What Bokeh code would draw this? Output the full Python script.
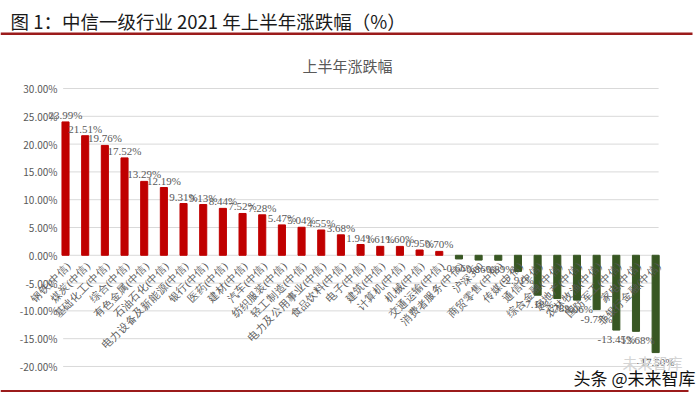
import math
from bokeh.plotting import figure
from bokeh.models import (Range1d, ColumnDataSource, LabelSet, Label, BoxAnnotation)
from bokeh.embed import file_html
from bokeh.resources import INLINE

categories = [
    "钢铁(中信)", "煤炭(中信)", "基础化工(中信)", "综合(中信)", "有色金属(中信)",
    "石油石化(中信)", "电力设备及新能源(中信)", "银行(中信)", "医药(中信)", "建材(中信)",
    "汽车(中信)", "纺织服装(中信)", "轻工制造(中信)", "电力及公用事业(中信)", "食品饮料(中信)",
    "电子(中信)", "建筑(中信)", "计算机(中信)", "机械(中信)", "交通运输(中信)",
    "消费者服务(中信)", "沪深300", "商贸零售(中信)", "传媒(中信)", "通信(中信)",
    "综合金融(中信)", "房地产(中信)", "农林牧渔(中信)", "国防军工(中信)", "家电(中信)",
    "非银行金融(中信)",
]
changes = [
    23.99, 21.51, 19.76, 17.52, 13.29,
    12.19, 9.31, 9.13, 8.44, 7.52,
    7.28, 5.47, 5.04, 4.55, 3.68,
    1.94, 1.61, 1.60, 0.95, 0.70,
    -0.66, -0.86, -0.89, -2.91, -7.18,
    -7.78, -8.06, -9.77, -13.45, -13.68,
    -17.50,
]
y_ticks = [-20, -15, -10, -5, 0, 5, 10, 15, 20, 25, 30]

main_title = "图 1：中信一级行业 2021 年上半年涨跌幅（%）"
chart_title = "上半年涨跌幅"
footer_text = "头条 @未来智库"
watermark_text = "未来智库"

FONT = "Noto Sans CJK SC"
RED = "#C00000"
GREEN = "#385723"
GREY = "#595959"
LINE_RED = "#9B1B1B"

W, H = 700, 396
idx = list(range(len(categories)))
colors = [RED if v >= 0 else GREEN for v in changes]
src = ColumnDataSource(dict(x=idx, cat=categories, val=changes, color=colors,
                            zero=[0] * len(categories)))
pos_src = ColumnDataSource(dict(
    x=[i for i, v in zip(idx, changes) if v >= 0],
    val=[v for v in changes if v >= 0],
    lab=[f"{v:.2f}%" for v in changes if v >= 0]))
neg_src = ColumnDataSource(dict(
    x=[i for i, v in zip(idx, changes) if v < 0],
    val=[v for v in changes if v < 0],
    lab=[f"{v:.2f}%" for v in changes if v < 0]))

# frame covers the whole canvas; ranges chosen so bars/gridlines sit where the original has them
p = figure(x_range=Range1d(-3.305, 32.28), y_range=Range1d(-25.4, 45.83),
           width=W, height=H, output_backend="svg", toolbar_location=None,
           x_axis_location=None, y_axis_location=None,
           min_border=0, min_border_left=0, min_border_right=0,
           min_border_top=0, min_border_bottom=0)
p.outline_line_color = None
p.background_fill_color = "white"
p.border_fill_color = "white"
p.xgrid.grid_line_color = None
p.ygrid.grid_line_color = None

# gridlines + y tick labels
grid_src = ColumnDataSource(dict(y=y_ticks, lab=[f"{t:.2f}%" for t in y_ticks]))
p.segment(x0=idx[0] - 0.12, x1=idx[-1] + 0.15, y0="y", y1="y", source=grid_src,
          line_color="#d9d9d9", line_width=1)
for t in y_ticks:
    p.add_layout(Label(x=57, y=t, x_units="screen", y_units="data", text=f"{t:.2f}%",
                       text_align="right", text_baseline="middle",
                       text_font=FONT, text_font_size="10px", text_color=GREY))

p.vbar(x="x", top="val", width=0.36, color="color", source=src)

p.add_layout(LabelSet(x="x", y="val", text="lab", source=pos_src,
                      text_align="center", text_baseline="bottom", y_offset=1,
                      text_font=FONT, text_font_size="11px", text_color=GREY))
p.add_layout(LabelSet(x="x", y="val", text="lab", source=neg_src,
                      text_align="center", text_baseline="top", y_offset=-3,
                      text_font=FONT, text_font_size="11px", text_color=GREY))
p.add_layout(LabelSet(x="x", y="zero", text="cat", source=src,
                      angle=math.pi / 4, text_align="right", text_baseline="middle",
                      x_offset=3, y_offset=-9,
                      text_font=FONT, text_font_size="10.5px", text_color=GREY))

# header, chart title, footer (screen units measured from the frame's bottom-left)
p.add_layout(Label(x=10, y=H - 20, x_units="screen", y_units="screen", text=main_title,
                   text_font=FONT, text_font_size="18.5px", text_color="#1a1a1a",
                   text_baseline="middle", text_align="left"))
p.add_layout(BoxAnnotation(left=0, right=692, top=H - 32, bottom=H - 34.5,
                           left_units="screen", right_units="screen",
                           top_units="screen", bottom_units="screen",
                           fill_color=LINE_RED, fill_alpha=1, line_color=None))
p.add_layout(Label(x=347, y=H - 65, x_units="screen", y_units="screen", text=chart_title,
                   text_font=FONT, text_font_size="15px", text_color=GREY,
                   text_baseline="middle", text_align="center"))
p.add_layout(Label(x=622, y=H - 362, x_units="screen", y_units="screen", text=watermark_text,
                   text_font=FONT, text_font_size="15px", text_color="#d4d4d4",
                   text_baseline="middle", text_align="left"))
p.add_layout(Label(x=695, y=H - 377, x_units="screen", y_units="screen", text=footer_text,
                   text_font=FONT, text_font_size="17px", text_color="#111111",
                   text_baseline="middle", text_align="right"))
p.add_layout(BoxAnnotation(left=0, right=688, top=H - 389.5, bottom=H - 391.5,
                           left_units="screen", right_units="screen",
                           top_units="screen", bottom_units="screen",
                           fill_color=LINE_RED, fill_alpha=1, line_color=None))

open("out.html", "w").write(file_html(p, INLINE))
